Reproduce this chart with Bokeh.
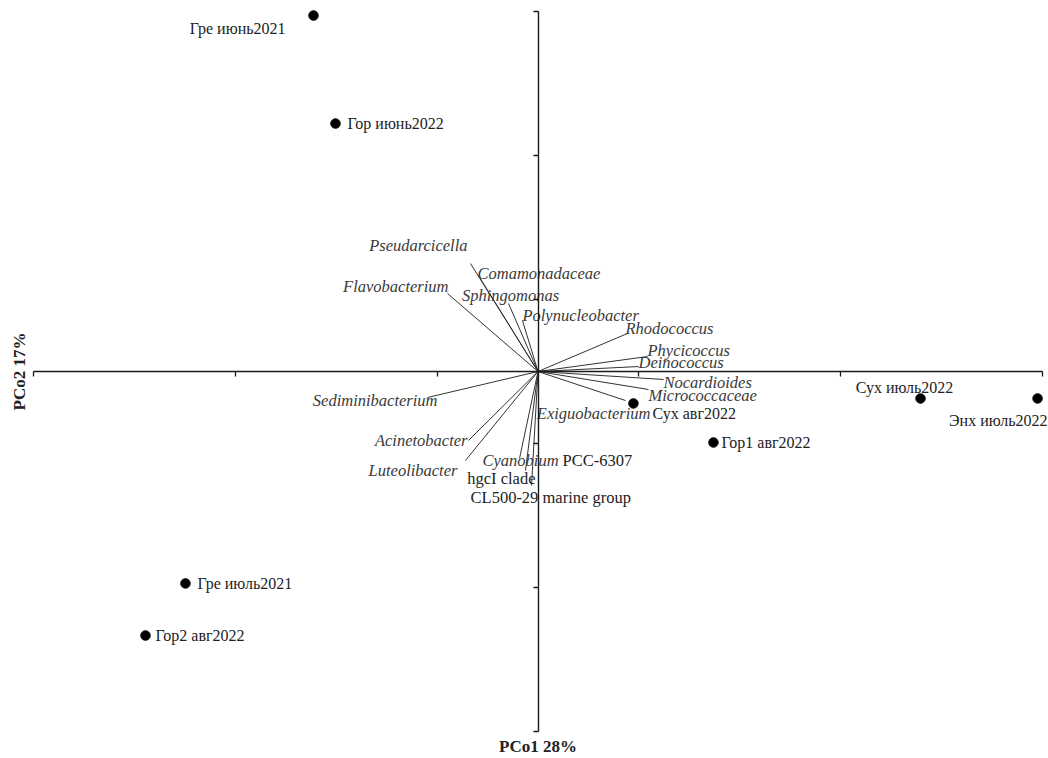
import math
from bokeh.plotting import figure
from bokeh.models import LinearAxis, FixedTicker, ColumnDataSource, Range1d
from bokeh.core.properties import value
from bokeh.embed import file_html
from bokeh.resources import INLINE

# ---------------- data ----------------
samples = ["Гре июнь2021", "Гор июнь2022", "Гре июль2021", "Гор2 авг2022",
           "Сух авг2022", "Гор1 авг2022", "Сух июль2022", "Энх июль2022"]
pco1 = [-0.2225, -0.2007, -0.3494, -0.3890, 0.0946, 0.1739, 0.3791, 0.4951]
pco2 = [0.4944, 0.3444, -0.2944, -0.3667, -0.0444, -0.0986, -0.0375, -0.0375]

taxa = ["Pseudarcicella", "Comamonadaceae", "Flavobacterium", "Sphingomonas",
        "Polynucleobacter", "Rhodococcus", "Phycicoccus", "Deinococcus",
        "Nocardioides", "Micrococcaceae", "Exiguobacterium", "Sediminibacterium",
        "Acinetobacter", "Luteolibacter", "Cyanobium PCC-6307", "hgcI clade",
        "CL500-29 marine group"]
taxa_x = [-0.0669, -0.0590, -0.0897, -0.0292, -0.0154, 0.0887, 0.1085, 0.0996,
          0.1244, 0.1095, 0.0867, -0.1095, -0.0689, -0.0719, -0.0183, -0.0124, -0.0064]
taxa_y = [0.1500, 0.1333, 0.1083, 0.0944, 0.0708, 0.0528, 0.0208, 0.0069,
          -0.0111, -0.0250, -0.0403, -0.0361, -0.0958, -0.1236, -0.1208, -0.1375, -0.1583]

axis_ticks = [-0.5, -0.3, -0.1, 0.1, 0.3, 0.5]
x_title = "PCo1 28%"
y_title = "PCo2 17%"

# ---------------- label layout (style) ----------------
# (align, x_offset px, y_offset px)
taxa_style = {
    "Pseudarcicella": ("right", -3, -18),
    "Comamonadaceae": ("left", -1, -2),
    "Flavobacterium": ("right", 1, -7),
    "Sphingomonas": ("center", 2, -8),
    "Polynucleobacter": ("left", 0, -5),
    "Rhodococcus": ("left", -2, -5),
    "Phycicoccus": ("left", 0, -6),
    "Deinococcus": ("left", 0, -4),
    "Nocardioides": ("left", 0, 3),
    "Micrococcaceae": ("left", 0, 6),
    "Exiguobacterium": ("right", 25, 13),
    "Sediminibacterium": ("right", 10, 3),
    "Acinetobacter": ("right", -1, 0),
    "Luteolibacter": ("right", -8, 10),
    "Cyanobium PCC-6307": ("left", -37, 2),
    "hgcI clade": ("right", 10, 8),
    "CL500-29 marine group": ("left", -61, 12),
}
roman_taxa = {"hgcI clade", "CL500-29 marine group"}
# italic genus + roman strain designation, roman part x offset (px from tip)
split_taxa = {"Cyanobium PCC-6307": ("Cyanobium", "PCC-6307", 43)}

sample_style = [("right", -28, 13), ("left", 12, 0), ("left", 12, 0), ("left", 10, 0),
                ("left", 19, 10), ("left", 8, 0), ("center", -16, -11), ("right", 10, 22)]

W, H = 1048, 758
# frame = whole canvas; axes span [-0.5, 0.5] between px 33..1042 and 11..731
sx = 1009.0
sy = 720.0
x_range = Range1d(-0.5 - 33 / sx, 0.5 + 6 / sx)
y_range = Range1d(-0.5 - 27 / sy, 0.5 + 11 / sy)

p = figure(width=W, height=H, x_range=x_range, y_range=y_range,
           output_backend="svg", toolbar_location=None,
           x_axis_location=None, y_axis_location=None,
           min_border=0, min_border_left=0, min_border_right=0,
           min_border_top=0, min_border_bottom=0)
p.outline_line_color = None
p.grid.visible = False
p.background_fill_color = "white"
p.border_fill_color = "white"

AX = "#1a1a1a"
for loc in ("below", "left"):
    ax = LinearAxis(fixed_location=0, bounds=(axis_ticks[0], axis_ticks[-1]),
                    ticker=FixedTicker(ticks=axis_ticks))
    ax.major_label_text_font_size = "0px"
    ax.major_label_text_alpha = 0
    ax.minor_tick_line_color = None
    ax.major_tick_in = 0
    ax.major_tick_out = 5
    ax.major_tick_line_color = AX
    ax.major_tick_line_width = 1.3
    ax.axis_line_color = AX
    ax.axis_line_width = 1.4
    p.add_layout(ax, loc)

# vectors
vec = ColumnDataSource(dict(x0=[0.0] * len(taxa), y0=[0.0] * len(taxa), x1=taxa_x, y1=taxa_y))
p.segment("x0", "y0", "x1", "y1", source=vec, line_color="#333333", line_width=1)

FONT = value("Liberation Serif")

# taxa labels
groups = {}
for name, tx, ty in zip(taxa, taxa_x, taxa_y):
    align, xo, yo = taxa_style[name]
    if name in split_taxa:
        ital, rom, rxo = split_taxa[name]
        groups.setdefault((align, "italic"), []).append((tx, ty, ital, xo, yo))
        groups.setdefault(("left", "normal"), []).append((tx, ty, rom, rxo, yo))
    else:
        style = "normal" if name in roman_taxa else "italic"
        groups.setdefault((align, style), []).append((tx, ty, name, xo, yo))

for (align, style), rows in groups.items():
    src = ColumnDataSource(dict(x=[r[0] for r in rows], y=[r[1] for r in rows],
                                t=[r[2] for r in rows], xo=[r[3] for r in rows],
                                yo=[r[4] for r in rows]))
    p.text("x", "y", text="t", x_offset="xo", y_offset="yo", source=src,
           text_font=FONT, text_font_style=style, text_font_size="16.5px",
           text_color="#3a3a3a" if style == "italic" else "#222222",
           text_align=align, text_baseline="middle")

# sample points
p.scatter(pco1, pco2, size=9.5, marker="circle", fill_color="black", line_color="black")

sgroups = {}
for name, sx_, sy_, st in zip(samples, pco1, pco2, sample_style):
    sgroups.setdefault(st[0], []).append((sx_, sy_, name, st[1], st[2]))
for align, rows in sgroups.items():
    src = ColumnDataSource(dict(x=[r[0] for r in rows], y=[r[1] for r in rows],
                                t=[r[2] for r in rows], xo=[r[3] for r in rows],
                                yo=[r[4] for r in rows]))
    p.text("x", "y", text="t", x_offset="xo", y_offset="yo", source=src,
           text_font=FONT, text_font_size="16px", text_color="#222222",
           text_align=align, text_baseline="middle")

# axis titles, anchored at the axis ends
p.text([0.0], [axis_ticks[0]], text=[x_title], y_offset=15, text_font=FONT,
       text_font_style="bold", text_font_size="17px", text_color="#222222",
       text_align="center", text_baseline="middle")
p.text([axis_ticks[0]], [0.0], text=[y_title], x_offset=-14, angle=math.pi / 2,
       text_font=FONT, text_font_style="bold", text_font_size="17px",
       text_color="#222222", text_align="center", text_baseline="middle")

open("out.html", "w").write(file_html(p, INLINE))
